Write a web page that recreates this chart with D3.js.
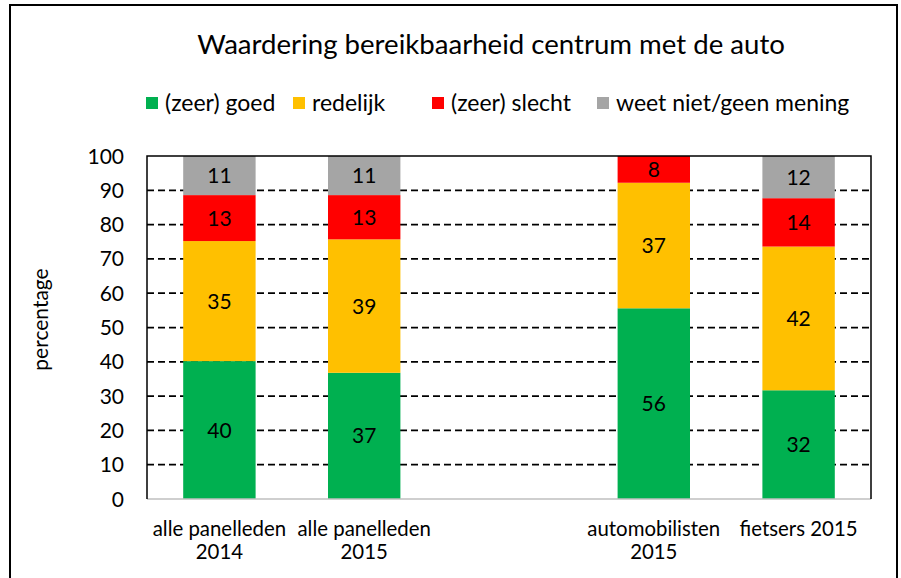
<html>
<head>
<meta charset="utf-8">
<script src="https://d3js.org/d3.v7.min.js"></script>
<style>
body { margin: 0; background: #fff; }
text { font-family: Lato, "Open Sans", sans-serif; fill: #000; }
</style>
</head>
<body>
<svg width="901" height="578"></svg>
<script>
// groups (empty one is the gap in the original chart)
var groups = ["alle panelleden|2014", "alle panelleden|2015", "", "automobilisten|2015", "fietsers 2015"];
var series = ["(zeer) goed", "redelijk", "(zeer) slecht", "weet niet/geen mening"];
var colors = ["#00B050", "#FFC000", "#FF0000", "#A5A5A5"];
var goed     = [40.2, 36.8, 0, 55.6, 31.7];
var redelijk = [35.0, 38.9, 0, 36.6, 41.9];
var slecht   = [13.4, 12.9, 0, 7.8, 14.1];
var weetniet = [11.4, 11.4, 0, 0, 12.3];
var yTicks = [0, 10, 20, 30, 40, 50, 60, 70, 80, 90, 100];

var svg = d3.select("svg");
var pLeft = 147, pRight = 871, pTop = 156, pBottom = 499;

// outer frame
svg.append("rect").attr("x", 10).attr("y", 5).attr("width", 887).attr("height", 590)
   .attr("fill", "none").attr("stroke", "#000").attr("stroke-width", 2);

svg.append("text").attr("x", 491).attr("y", 54).attr("text-anchor", "middle")
   .style("font-size", "27.6px").text("Waardering bereikbaarheid centrum met de auto");

var x = d3.scaleBand().domain(d3.range(groups.length)).range([pLeft, pRight])
   .paddingInner(0.5).paddingOuter(0.25);
var y = d3.scaleLinear().domain([0, 100]).range([pBottom, pTop]);

// gridlines
svg.append("g").selectAll("line").data(yTicks.filter(function(d){ return d > 0 && d < 100; }))
   .enter().append("line")
   .attr("x1", pLeft).attr("x2", pRight)
   .attr("y1", function(d){ return y(d); }).attr("y2", function(d){ return y(d); })
   .attr("stroke", "#000").attr("stroke-width", 1.75).attr("stroke-dasharray", "7,4");

// y tick labels
svg.append("g").selectAll("text").data(yTicks).enter().append("text")
   .attr("x", 124).attr("y", function(d){ return y(d); }).attr("dy", "0.36em")
   .attr("text-anchor", "end").style("font-size", "21px").text(function(d){ return d; });

svg.append("text").attr("transform", "translate(48," + ((pTop + pBottom) / 2 - 8) + ") rotate(-90)")
   .attr("text-anchor", "middle").style("font-size", "21px").text("percentage");

var rows = [goed, redelijk, slecht, weetniet];
var table = groups.map(function(g, i) {
  var o = { i: i };
  series.forEach(function(s, k){ o[s] = rows[k][i]; });
  return o;
});
var stack = d3.stack().keys(series)(table);

var layer = svg.append("g").selectAll("g").data(stack).enter().append("g")
   .attr("fill", function(d, k){ return colors[k]; });
layer.selectAll("rect").data(function(d){ return d.filter(function(p){ return p[1] - p[0] > 0; }); })
   .enter().append("rect")
   .attr("x", function(d){ return x(d.data.i); })
   .attr("width", x.bandwidth())
   .attr("y", function(d){ return y(Math.min(d[1], 100)); })
   .attr("height", function(d){ return y(d[0]) - y(Math.min(d[1], 100)); });

layer.selectAll("text").data(function(d){ return d.filter(function(p){ return p[1] - p[0] > 0; }); })
   .enter().append("text")
   .attr("x", function(d){ return x(d.data.i) + x.bandwidth() / 2; })
   .attr("y", function(d){ return (y(d[0]) + y(Math.min(d[1], 100))) / 2; })
   .attr("dy", "0.36em").attr("text-anchor", "middle").style("font-size", "21px")
   .text(function(d){ return Math.round(d[1] - d[0]); });

// plot frame
svg.append("line").attr("x1", pLeft).attr("x2", pRight).attr("y1", pBottom).attr("y2", pBottom)
   .attr("stroke", "#BFBFBF").attr("stroke-width", 1.5);
svg.append("path").attr("d", "M" + pLeft + "," + pBottom + "V" + pTop + "H" + pRight + "V" + pBottom)
   .attr("fill", "none").attr("stroke", "#000").attr("stroke-width", 1.5);

// x labels
svg.append("g").selectAll("text").data(groups).enter().append("text")
   .attr("x", function(d, i){ return x(i) + x.bandwidth() / 2; })
   .attr("y", 536).attr("text-anchor", "middle").style("font-size", "20.4px")
   .each(function(d) {
     var parts = d.split("|");
     var cx = d3.select(this).attr("x");
     d3.select(this).selectAll("tspan").data(parts).enter().append("tspan")
       .attr("x", cx)
       .attr("dy", function(p, j){ return j ? 23 : 0; })
       .text(function(p){ return p; });
   });

// legend
var legX = [146, 293, 432, 597];
var leg = svg.append("g").selectAll("g").data(series).enter().append("g")
   .attr("transform", function(d, k){ return "translate(" + legX[k] + ",103)"; });
leg.append("rect").attr("x", 0).attr("y", -6).attr("width", 12).attr("height", 12)
   .attr("fill", function(d, k){ return colors[k]; });
leg.append("text").attr("x", 19).attr("dy", "0.36em").style("font-size", "23px")
   .text(function(d){ return d; });
</script>
</body>
</html>
